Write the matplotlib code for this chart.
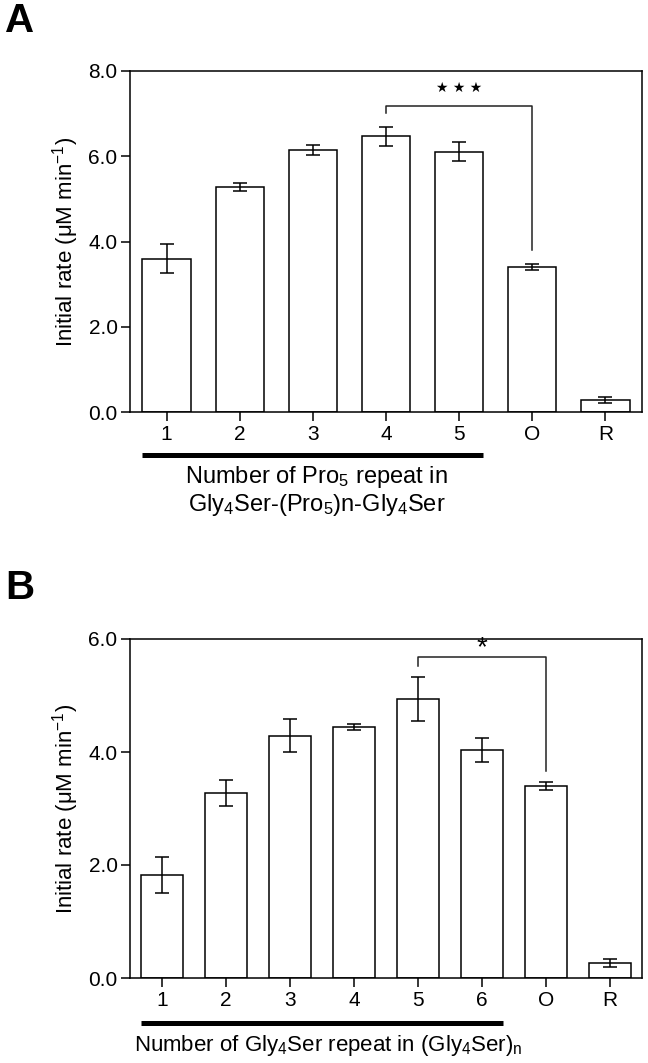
import numpy as np
import matplotlib
matplotlib.use("Agg")
import matplotlib.pyplot as plt
import matplotlib.transforms as mtransforms

plt.rcParams["font.family"] = ["Liberation Sans", "DejaVu Sans"]
plt.rcParams["mathtext.default"] = "regular"

# Panel A: Gly4Ser-(Pro5)n-Gly4Ser linkers
groups_a = ["1", "2", "3", "4", "5", "O", "R"]
rate_a = [3.60, 5.28, 6.14, 6.47, 6.11, 3.41, 0.28]
err_a = [0.35, 0.10, 0.12, 0.22, 0.22, 0.07, 0.07]

# Panel B: (Gly4Ser)n linkers
groups_b = ["1", "2", "3", "4", "5", "6", "O", "R"]
rate_b = [1.82, 3.27, 4.29, 4.44, 4.94, 4.03, 3.40, 0.27]
err_b = [0.32, 0.23, 0.29, 0.05, 0.39, 0.21, 0.07, 0.075]

ylabel = "Initial rate (μM min$^{-1}$)"
TICK_FS = 15
LABEL_FS = 16
W, H = 648, 1063

fig = plt.figure(figsize=(W / 100, H / 100), dpi=100)


def fy(px):
    # pixel row (from top) -> figure fraction
    return 1 - px / H


def panel(rect, groups, rate, err, ymax, yticks, sig, letter, letter_y):
    ax = fig.add_axes(rect)
    x = np.arange(1, len(groups) + 1)
    ax.bar(x, rate, width=0.66, color="white", edgecolor="black", linewidth=1.1, zorder=2)
    ax.errorbar(x, rate, yerr=err, fmt="none", ecolor="black", elinewidth=1.1,
                capsize=5, capthick=1.1, zorder=3)
    ax.set_xlim(0.5, len(groups) + 0.5)
    ax.set_ylim(0, ymax)
    ax.set_yticks(yticks)
    ax.set_yticklabels([f"{t:.1f}" for t in yticks])
    ax.set_xticks(x)
    ax.set_xticklabels(groups)
    for s in ax.spines.values():
        s.set_linewidth(1.1)
    ax.tick_params(direction="out", length=6.5, width=1.1, labelsize=TICK_FS)
    ax.tick_params(axis="x", pad=2.5)
    ax.tick_params(axis="y", pad=2.5)

    # significance bracket
    i0, i1, yb, leg0, leg1, label, label_y, lfs, lfam = sig
    ax.plot([x[i0], x[i0], x[i1], x[i1]], [leg0, yb, yb, leg1], color="#222222",
            lw=1.1, zorder=4)
    ax.text((x[i0] + x[i1]) / 2, label_y, label, ha="center", va="center",
            fontsize=lfs, family=lfam)

    # y label and panel letter
    ycen = rect[1] + rect[3] / 2
    fig.text(66 / W, ycen, ylabel, rotation=90, ha="center", va="center",
             fontsize=LABEL_FS)
    fig.text(5 / W, fy(letter_y), letter, fontsize=29, fontweight="bold",
             ha="left", va="center")
    return ax, x


# ---- panel A
ax_a, xa = panel([130 / W, fy(412), 512 / W, 341 / H], groups_a, rate_a, err_a,
                 8.0, [0, 2, 4, 6, 8],
                 (3, 5, 7.19, 7.02, 3.80, "★ ★ ★", 7.6, 10, "DejaVu Sans"),
                 "A", 21)
blend_a = mtransforms.blended_transform_factory(ax_a.transData, fig.transFigure)
ax_a.plot([xa[0] - 0.33, xa[4] + 0.33], [fy(455), fy(455)], transform=blend_a,
          clip_on=False, color="black", lw=3.6, solid_capstyle="butt")
ax_a.text(3.05, fy(477), "Number of Pro$_5$ repeat in", transform=blend_a,
          ha="center", va="center", fontsize=17)
ax_a.text(3.05, fy(505), "Gly$_4$Ser-(Pro$_5$)n-Gly$_4$Ser", transform=blend_a,
          ha="center", va="center", fontsize=17)

# ---- panel B
ax_b, xb = panel([130 / W, fy(978), 512 / W, 339 / H], groups_b, rate_b, err_b,
                 6.0, [0, 2, 4, 6],
                 (4, 6, 5.69, 5.52, 3.67, "*", 5.83, 20, "Liberation Sans"),
                 "B", 588)
blend_b = mtransforms.blended_transform_factory(ax_b.transData, fig.transFigure)
ax_b.plot([xb[0] - 0.33, xb[5] + 0.33], [fy(1023), fy(1023)], transform=blend_b,
          clip_on=False, color="black", lw=3.6, solid_capstyle="butt")
ax_b.text(3.6, fy(1046), "Number of Gly$_4$Ser repeat in (Gly$_4$Ser)$_n$",
          transform=blend_b, ha="center", va="center", fontsize=16)

fig.savefig("out.png", dpi=100)
